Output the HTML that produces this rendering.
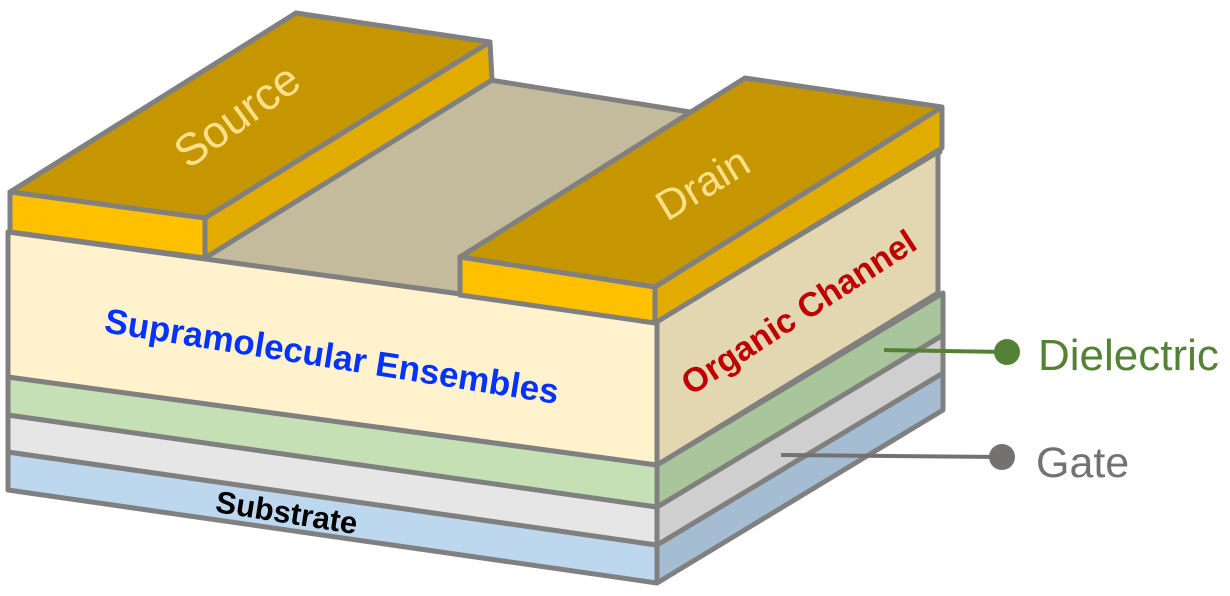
<!DOCTYPE html>
<html><head><meta charset="utf-8"><style>
html,body{margin:0;padding:0;background:#fff;}
svg{display:block;}
text{font-family:"Liberation Sans",Arial,sans-serif;}
</style></head><body>
<svg width="1230" height="596" viewBox="0 0 1230 596" xmlns="http://www.w3.org/2000/svg">
<g stroke="#808080" stroke-width="5" stroke-linejoin="round">
<polygon points="8,452 657,545 657,583 8,490" fill="#BDD7EE"/>
<polygon points="657,545 943,373 943,410 657,583" fill="#A5BDD3"/>
<polygon points="8,415 657,507 657,545 8,452" fill="#E7E6E6"/>
<polygon points="657,507 943,335 943,373 657,545" fill="#CFCFCF"/>
<polygon points="8,377 657,465 657,507 8,415" fill="#C5E0B4"/>
<polygon points="657,465 943,293 943,335 657,507" fill="#A9C59B"/>
<polygon points="8,232 290,48 940,152 657,321" fill="#C4BB9D"/>
<polygon points="8,232 657,321 657,465 8,377" fill="#FFF2CC"/>
<polygon points="657,321 938,152 938,293 657,465" fill="#E3D7B2"/>
<polygon points="10,192 296,13 490,42 205,218" fill="#C59600"/>
<polygon points="10,192 205,218 205,258 10,232" fill="#FFC000"/>
<polygon points="205,218 490,42 492,80 205,258" fill="#E2AB00"/>
<polygon points="460,257 745,78 942,107 655,287" fill="#C59600"/>
<polygon points="460,257 655,287 655,323 460,295" fill="#FFC000"/>
<polygon points="655,287 942,107 942,148 655,323" fill="#E2AB00"/>
</g>
<text x="0" y="0" font-size="45" fill="#FFE08A" text-anchor="middle" transform="translate(246,128) rotate(-36)">Source</text>
<text x="0" y="0" font-size="42" fill="#FFE08A" text-anchor="middle" transform="translate(710,196) rotate(-31)">Drain</text>
<text x="0" y="0" font-size="35" font-weight="bold" fill="#0033FF" text-anchor="middle" transform="translate(330,368) rotate(9)">Supramolecular Ensembles</text>
<text x="0" y="0" font-size="34" font-weight="bold" fill="#C00000" text-anchor="middle" transform="translate(805,322) rotate(-33)">Organic Channel</text>
<text x="0" y="0" font-size="31" font-weight="bold" fill="#000" text-anchor="middle" transform="translate(285,523) rotate(9)">Substrate</text>
<line x1="884" y1="350" x2="1007" y2="352" stroke="#548235" stroke-width="4"/>
<circle cx="1007" cy="352" r="13" fill="#548235"/>
<text x="1038" y="370" font-size="44" fill="#548235">Dielectric</text>
<line x1="781" y1="455" x2="1002" y2="457" stroke="#767171" stroke-width="4"/>
<circle cx="1002" cy="457" r="13" fill="#767171"/>
<text x="1036" y="477" font-size="43" fill="#767171">Gate</text>
</svg>
</body></html>
